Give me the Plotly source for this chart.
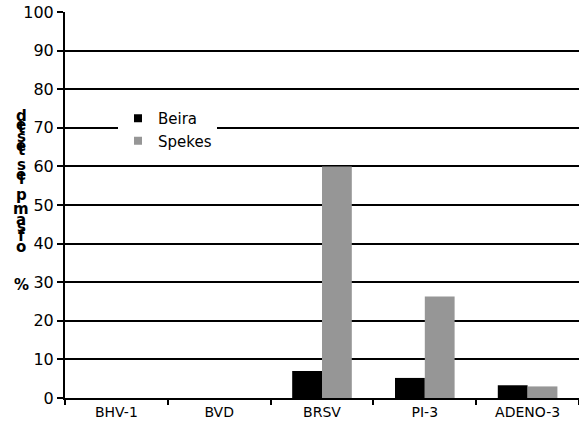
import plotly.graph_objects as go

categories = ["BHV-1", "BVD", "BRSV", "PI-3", "ADENO-3"]
beira = [0, 0, 7, 5.2, 3.3]
spekes = [0, 0, 60, 26.3, 3.0]
y_ticks = [0, 10, 20, 30, 40, 50, 60, 70, 80, 90, 100]

# vertical, stacked (overlapping) y-axis title as in the source chart
y_title = "% of samples tested"
title_chars = [c for c in reversed(y_title) if c != " "]
# pixel rows of each stacked character (top to bottom)
title_rows = [116, 125, 128, 137, 146, 150, 165, 175, 179, 195, 209, 220, 227, 236, 247, 285]

W, H = 579, 434
L, R, T, B = 65, 0, 12, 36
ph = H - T - B
pw = W - L - R

FONT = "DejaVu Sans, Verdana, sans-serif"

def px_x(xp):
    return (xp - L) / pw

def px_y(yp):
    return (H - B - yp) / ph

fig = go.Figure()
fig.add_trace(go.Bar(x=categories, y=beira, name="Beira", marker_color="#000000",
                     marker_line_width=0, showlegend=False))
fig.add_trace(go.Bar(x=categories, y=spekes, name="Spekes", marker_color="#969696",
                     marker_line_width=0, showlegend=False))
# legend entries with small square keys
for name, col in (("Beira", "#000000"), ("Spekes", "#969696")):
    fig.add_trace(go.Scatter(x=[None], y=[None], mode="markers", name=name,
                             marker=dict(symbol="square", size=8, color=col)))

annotations = []
for ch, row in zip(title_chars, title_rows):
    annotations.append(dict(
        text="<b>%s</b>" % ch, x=px_x(21), xref="paper",
        y=px_y(row), yref="paper", xanchor="center", yanchor="middle",
        showarrow=False, font=dict(family=FONT, size=15, color="black")))

fig.update_layout(
    width=W, height=H,
    margin=dict(l=L, r=R, t=T, b=B, pad=0, autoexpand=False),
    paper_bgcolor="white", plot_bgcolor="white",
    barmode="group", bargap=0.42, bargroupgap=0,
    font=dict(family=FONT, color="black"),
    showlegend=True,
    legend=dict(x=px_x(118), y=px_y(102), xanchor="left", yanchor="top",
                bgcolor="white", borderwidth=0, font=dict(family=FONT, size=15, color="black"),
                itemwidth=30, tracegroupgap=0),
    annotations=annotations,
    xaxis=dict(
        type="category", showline=True, linecolor="black", linewidth=2,
        ticks="outside", tickson="boundaries", ticklen=5, tickwidth=1.5, tickcolor="black",
        tickfont=dict(family=FONT, size=14, color="black"), showgrid=False,
        mirror=False, zeroline=False,
    ),
    yaxis=dict(
        range=[0, 100], tickvals=y_ticks, showline=True, linecolor="black", linewidth=2,
        ticks="outside", ticklen=6, tickwidth=1.5, tickcolor="black",
        tickfont=dict(family=FONT, size=16, color="black"),
        showgrid=True, gridcolor="black", gridwidth=1.5, zeroline=False,
    ),
)

fig.write_html("out.html", config={"displayModeBar": False},
               post_script="document.body.style.margin='0';")
